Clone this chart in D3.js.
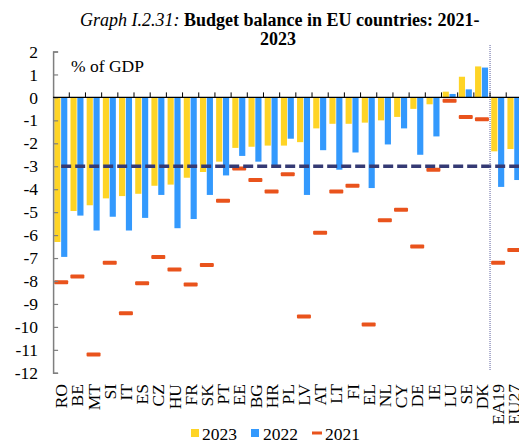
<!DOCTYPE html>
<html>
<head>
<meta charset="utf-8">
<script src="https://cdn.jsdelivr.net/npm/d3@7"></script>
<style>
body { margin: 0; background: #fff; }
svg text { font-family: "Liberation Serif", "Times New Roman", "DejaVu Serif", serif; }
</style>
</head>
<body>
<svg></svg>
<script>
var countries = ["RO", "BE", "MT", "SI", "IT", "ES", "CZ", "HU", "FR", "SK", "PT", "EE", "BG", "HR", "PL",
                 "LV", "AT", "LT", "FI", "EL", "NL", "CY", "DE", "IE", "LU", "SE", "DK", "EA19", "EU27"];

var bal2023 = [-6.3, -4.95, -4.7, -4.4, -4.3, -4.2, -3.85, -3.8, -3.5, -3.25, -2.8, -2.2, -2.15, -2.1, -2.1,
               -1.95, -1.35, -1.15, -1.15, -1.1, -1.0, -0.85, -0.5, -0.3, 0.25, 0.9, 1.35, -2.35, -2.25];

var bal2022 = [-6.95, -5.15, -5.8, -5.2, -5.8, -5.25, -4.25, -5.7, -5.3, -4.25, -3.4, -2.55, -2.8, -2.95, -1.8,
               -4.25, -2.3, -3.15, -2.4, -3.95, -2.05, -1.35, -2.5, -1.7, 0.15, 0.35, 1.3, -3.9, -3.6];

var bal2021 = [-8.05, -7.8, -11.2, -7.2, -9.4, -8.1, -6.95, -7.5, -8.15, -7.3, -4.5, -3.1, -3.6, -4.1, -3.35,
               -9.55, -5.9, -4.1, -3.85, -9.9, -5.35, -4.9, -6.5, -3.15, -0.15, -0.85, -0.95, -7.2, -6.65];

var yTicks = [2, 1, 0, -1, -2, -3, -4, -5, -6, -7, -8, -9, -10, -11, -12];
var deficitLimit = -3;

var screen = {width: 519, height: 444};
var colors = {"2023": "#fed426", "2022": "#3399fd", "2021": "#e9531c"};
var serif = "'Liberation Serif', 'Times New Roman', 'DejaVu Serif', serif";

var svg = d3.select("svg")
    .attr("width", screen.width)
    .attr("height", screen.height)
    .attr("font-family", serif);

var xScale = d3.scaleBand()
    .domain(countries)
    .range([53.1, 522.4])
    .padding(0);

var subScale = d3.scaleBand()
    .domain(["2023", "2022"])
    .range([1.2, 14.2])
    .paddingInner(0.1);

var yScale = d3.scaleLinear()
    .domain([-12, 2])
    .range([372.8, 51.5]);

// title
var title = svg.append("text")
    .attr("x", 80)
    .attr("y", 25.5)
    .style("font-size", "18px");
title.append("tspan").style("font-style", "italic").text("Graph I.2.31: ");
title.append("tspan").style("font-weight", "bold").text("Budget balance in EU countries: 2021-");

svg.append("text")
    .attr("x", 278)
    .attr("y", 45)
    .attr("text-anchor", "middle")
    .style("font-size", "18px")
    .style("font-weight", "bold")
    .text("2023");

var rows = countries.map(function(c, i)
{
    return {name: c, v2023: bal2023[i], v2022: bal2022[i], v2021: bal2021[i]};
});

var groups = svg.append("g")
    .selectAll("g")
    .data(rows)
    .enter()
    .append("g")
    .attr("transform", function(d){return "translate(" + xScale(d.name) + ",0)";});

groups.append("rect")
    .attr("x", subScale("2023"))
    .attr("width", subScale.bandwidth())
    .attr("y", function(d){return yScale(Math.max(0, d.v2023));})
    .attr("height", function(d){return Math.abs(yScale(d.v2023) - yScale(0));})
    .attr("fill", colors["2023"]);

groups.append("rect")
    .attr("x", subScale("2022"))
    .attr("width", subScale.bandwidth())
    .attr("y", function(d){return yScale(Math.max(0, d.v2022));})
    .attr("height", function(d){return Math.abs(yScale(d.v2022) - yScale(0));})
    .attr("fill", colors["2022"]);

groups.append("rect")
    .attr("x", xScale.bandwidth() / 2 - 7)
    .attr("width", 14)
    .attr("y", function(d){return yScale(d.v2021) - 2;})
    .attr("height", 4)
    .attr("rx", 1)
    .attr("fill", colors["2021"]);

// -3% reference line
svg.append("line")
    .attr("x1", xScale("RO") + xScale.bandwidth() / 2)
    .attr("x2", screen.width + 5)
    .attr("y1", yScale(deficitLimit))
    .attr("y2", yScale(deficitLimit))
    .attr("stroke", "#353a74")
    .attr("stroke-width", 3.5)
    .attr("stroke-dasharray", "10,4");

// separator between countries and aggregates
svg.append("line")
    .attr("x1", xScale("EA19"))
    .attr("x2", xScale("EA19"))
    .attr("y1", 45)
    .attr("y2", 370)
    .attr("stroke", "#5a5f9c")
    .attr("stroke-width", 1)
    .attr("stroke-dasharray", "1,1");

// y axis
var yAxis = d3.axisLeft(yScale)
    .tickValues(yTicks)
    .tickSize(-5)
    .tickPadding(15)
    .tickFormat(function(d){return String(d);});

var yg = svg.append("g")
    .attr("transform", "translate(53.1,0)")
    .call(yAxis)
    .attr("font-family", serif)
    .attr("font-size", 17.5);
yg.select(".domain").attr("stroke", "#7f7f7f").attr("stroke-width", 1.5);
yg.selectAll(".tick line").attr("stroke", "#7f7f7f").attr("stroke-width", 1.2);
yg.selectAll(".tick text").attr("fill", "#000");

// zero line with upward ticks at category boundaries
var x0 = svg.append("g");
x0.append("line")
    .attr("x1", 53.1)
    .attr("x2", screen.width + 5)
    .attr("y1", yScale(0))
    .attr("y2", yScale(0))
    .attr("stroke", "#000")
    .attr("stroke-width", 1.3);
x0.selectAll("line.tk")
    .data(countries.slice(1))
    .enter()
    .append("line")
    .attr("class", "tk")
    .attr("x1", function(d){return xScale(d);})
    .attr("x2", function(d){return xScale(d);})
    .attr("y1", yScale(0))
    .attr("y2", yScale(0) - 5)
    .attr("stroke", "#000")
    .attr("stroke-width", 1);

// category labels
svg.append("g")
    .selectAll("text")
    .data(countries)
    .enter()
    .append("text")
    .attr("transform", function(d){return "translate(" + (xScale(d) + xScale.bandwidth() / 2) + ",384) rotate(-90)";})
    .attr("text-anchor", "end")
    .attr("dy", "0.35em")
    .style("font-size", "17.5px")
    .text(function(d){return d;});

svg.append("text")
    .attr("x", 71)
    .attr("y", 72)
    .style("font-size", "17.5px")
    .text("% of GDP");

// legend
var legend = svg.append("g").style("font-size", "17.5px");
legend.append("rect").attr("x", 191).attr("y", 429).attr("width", 8).attr("height", 8).attr("fill", colors["2023"]);
legend.append("text").attr("x", 202).attr("y", 439.5).text("2023");
legend.append("rect").attr("x", 251).attr("y", 429).attr("width", 8).attr("height", 8).attr("fill", colors["2022"]);
legend.append("text").attr("x", 263).attr("y", 439.5).text("2022");
legend.append("rect").attr("x", 312).attr("y", 431.5).attr("width", 10).attr("height", 3).attr("fill", colors["2021"]);
legend.append("text").attr("x", 325).attr("y", 439.5).text("2021");
</script>
</body>
</html>
